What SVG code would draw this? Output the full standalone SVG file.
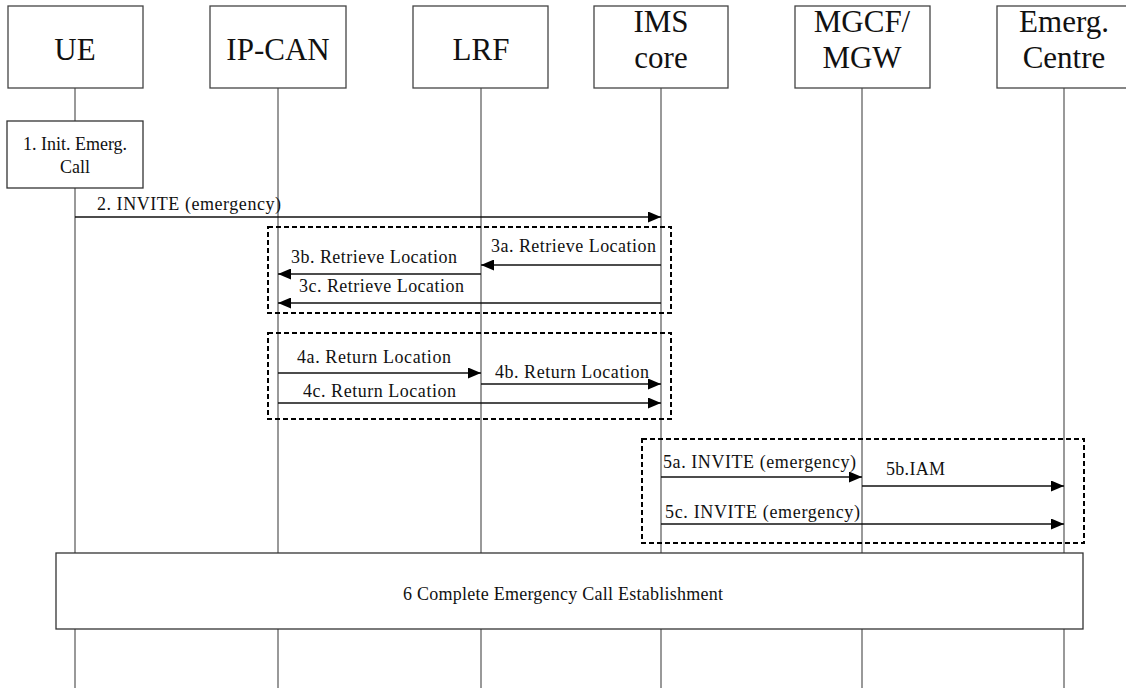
<svg xmlns="http://www.w3.org/2000/svg" width="1126" height="688" viewBox="0 0 1126 688">
  <style>
    .bg { fill: #ffffff; }
    .entity { fill: #ffffff; stroke: #444444; stroke-width: 1.3; }
    .life { stroke: #555555; stroke-width: 1.2; fill: none; }
    .msg { stroke: #111111; stroke-width: 1.3; fill: none; marker-end: url(#arrow); }
    .group { fill: none; stroke: #000000; stroke-width: 2; stroke-dasharray: 5 3; }
    .step { fill: #ffffff; stroke: #333333; stroke-width: 1.3; }
    text { font-family: 'Liberation Serif', 'DejaVu Serif', serif; fill: #111111; }
    .head { font-size: 31px; text-anchor: middle; }
    .lbl { font-size: 18px; }
    .mid { text-anchor: middle; }
  </style>
  <defs>
    <marker id="arrow" markerUnits="userSpaceOnUse" markerWidth="13" markerHeight="11" refX="13" refY="5.5" orient="auto">
      <path d="M0,0 L13,5.5 L0,11 z" fill="#000000"/>
    </marker>
  </defs>

  <rect class="bg" x="0" y="0" width="1126" height="688"/>

  <!-- lifelines -->
  <g id="lifelines">
    <line class="life" x1="75" y1="88" x2="75" y2="688"/>
    <line class="life" x1="278" y1="88" x2="278" y2="688"/>
    <line class="life" x1="481" y1="88" x2="481" y2="688"/>
    <line class="life" x1="661" y1="88" x2="661" y2="688"/>
    <line class="life" x1="862" y1="88" x2="862" y2="688"/>
    <line class="life" x1="1064" y1="88" x2="1064" y2="688"/>
  </g>

  <!-- entities -->
  <g id="ue">
    <rect class="entity" x="8" y="6" width="135" height="82"/>
    <text class="head" x="75" y="60" font-family="Liberation Serif, serif">UE</text>
  </g>
  <g id="ip-can">
    <rect class="entity" x="210" y="6" width="136" height="82"/>
    <text class="head" x="278" y="60" font-family="Liberation Serif, serif">IP-CAN</text>
  </g>
  <g id="lrf">
    <rect class="entity" x="413" y="6" width="135" height="82"/>
    <text class="head" x="481" y="60" font-family="Liberation Serif, serif">LRF</text>
  </g>
  <g id="ims-core">
    <rect class="entity" x="594" y="6" width="134" height="82"/>
    <text class="head" x="661" y="32" font-family="Liberation Serif, serif">IMS</text>
    <text class="head" x="661" y="68" font-family="Liberation Serif, serif">core</text>
  </g>
  <g id="mgcf-mgw">
    <rect class="entity" x="795" y="6" width="135" height="82"/>
    <text class="head" x="862" y="32" font-family="Liberation Serif, serif">MGCF/</text>
    <text class="head" x="862" y="68" font-family="Liberation Serif, serif">MGW</text>
  </g>
  <g id="emerg-centre">
    <rect class="entity" x="997" y="6" width="135" height="82"/>
    <text class="head" x="1064" y="32" font-family="Liberation Serif, serif">Emerg.</text>
    <text class="head" x="1064" y="68" font-family="Liberation Serif, serif">Centre</text>
  </g>

  <!-- step 1 -->
  <g id="step1">
    <rect class="step" x="7" y="121" width="136" height="67"/>
    <text class="lbl mid" x="75" y="150">1. Init. Emerg.</text>
    <text class="lbl mid" x="75" y="173">Call</text>
  </g>

  <!-- dashed groupings -->
  <g id="groups">
    <rect class="group" x="268" y="227" width="403" height="86"/>
    <rect class="group" x="268" y="333" width="403" height="86"/>
    <rect class="group" x="642" y="439" width="442" height="104"/>
  </g>

  <!-- messages -->
  <g id="connectors">
    <line class="msg" x1="75" y1="217" x2="661" y2="217"/>
    <line class="msg" x1="661" y1="265" x2="481" y2="265"/>
    <line class="msg" x1="481" y1="274" x2="278" y2="274"/>
    <line class="msg" x1="661" y1="303" x2="278" y2="303"/>
    <line class="msg" x1="278" y1="373" x2="481" y2="373"/>
    <line class="msg" x1="481" y1="384" x2="661" y2="384"/>
    <line class="msg" x1="278" y1="403" x2="661" y2="403"/>
    <line class="msg" x1="661" y1="477" x2="862" y2="477"/>
    <line class="msg" x1="862" y1="486" x2="1064" y2="486"/>
    <line class="msg" x1="661" y1="524" x2="1064" y2="524"/>
  </g>

  <!-- message labels -->
  <g id="labels">
    <text class="lbl" x="97" y="210" textLength="184" lengthAdjust="spacing">2. INVITE (emergency)</text>
    <text class="lbl" x="491" y="252" textLength="165" lengthAdjust="spacing">3a. Retrieve Location</text>
    <text class="lbl" x="291" y="263" textLength="166" lengthAdjust="spacing">3b. Retrieve Location</text>
    <text class="lbl" x="299" y="292" textLength="165" lengthAdjust="spacing">3c. Retrieve Location</text>
    <text class="lbl" x="297" y="363" textLength="154" lengthAdjust="spacing">4a. Return Location</text>
    <text class="lbl" x="495" y="378" textLength="154" lengthAdjust="spacing">4b. Return Location</text>
    <text class="lbl" x="303" y="397" textLength="153" lengthAdjust="spacing">4c. Return Location</text>
    <text class="lbl" x="663" y="468" textLength="193" lengthAdjust="spacing">5a. INVITE (emergency)</text>
    <text class="lbl" x="886" y="475" textLength="59" lengthAdjust="spacing">5b.IAM</text>
    <text class="lbl" x="665" y="518" textLength="195" lengthAdjust="spacing">5c. INVITE (emergency)</text>
  </g>

  <!-- step 6 -->
  <g id="step6">
    <rect class="step" x="56" y="553" width="1027" height="76"/>
    <text class="lbl" x="403" y="600" textLength="320" lengthAdjust="spacing">6 Complete Emergency Call Establishment</text>
  </g>
</svg>
